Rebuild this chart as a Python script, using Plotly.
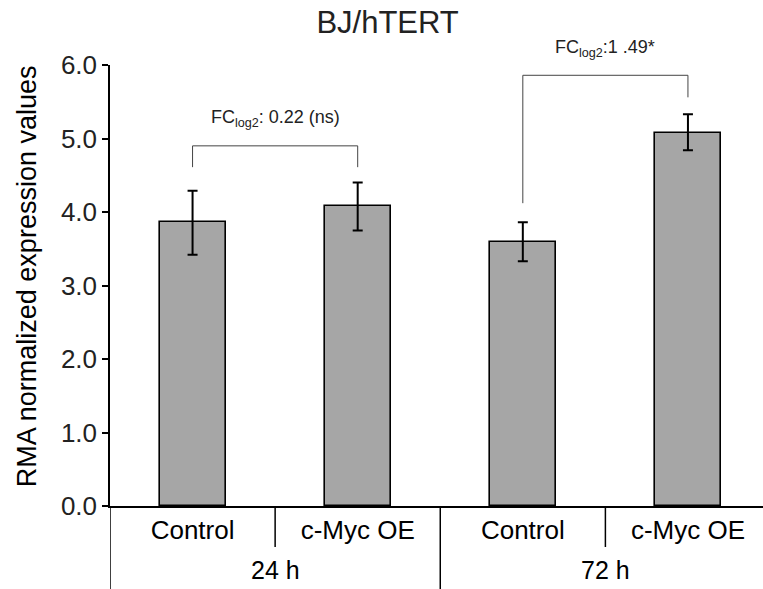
import plotly.graph_objects as go

# ---- data ----
conditions = ["Control", "c-Myc OE", "Control", "c-Myc OE"]
timepoints = ["24 h", "72 h"]
values = [3.86, 4.08, 3.59, 5.08]
err_upper = [0.43, 0.32, 0.27, 0.25]
err_lower = [0.44, 0.33, 0.26, 0.24]
y_ticks = [0.0, 1.0, 2.0, 3.0, 4.0, 5.0, 6.0]

# comparison brackets: (left bar, right bar, top y, left leg end, right leg end, label)
brackets = [
    (0, 1, 4.90, 4.61, 4.61, "FC<sub>log2</sub>: 0.22 (ns)"),
    (2, 3, 5.86, 4.12, 5.56, "FC<sub>log2</sub>:1 .49*"),
]

FONT = "Liberation Sans, Arial, Helvetica, sans-serif"
xpos = list(range(len(values)))

fig = go.Figure()
fig.add_trace(go.Bar(
    x=xpos, y=values, width=0.4,
    marker=dict(color="#a6a6a6", line=dict(color="black", width=1.6)),
    error_y=dict(type="data", symmetric=False, array=err_upper, arrayminus=err_lower,
                 color="black", thickness=2, width=5),
    showlegend=False,
))

shapes = []
annotations = []
for (a, b, top, la, lb, label) in brackets:
    for xx, y0 in ((a, la), (b, lb)):
        shapes.append(dict(type="line", xref="x", yref="y", x0=xx, x1=xx, y0=y0, y1=top,
                           line=dict(color="#444444", width=1)))
    shapes.append(dict(type="line", xref="x", yref="y", x0=a, x1=b, y0=top, y1=top,
                       line=dict(color="#444444", width=1)))
    annotations.append(dict(x=(a + b) / 2, y=top, yshift=27, xref="x", yref="y", text=label,
                            showarrow=False, font=dict(size=18, color="#222222", family=FONT),
                            xanchor="center", yanchor="middle"))

# category dividers
n = len(values)
for i in range(1, n):
    if i % 2 == 0:
        continue
    boundary = i - 0.5
    shapes.append(dict(type="line", xref="x", yref="paper", x0=boundary, x1=boundary,
                       y0=0, y1=-0.093, line=dict(color="black", width=1.5)))
for g in range(len(timepoints)):
    boundary = g * 2 - 0.5
    shapes.append(dict(type="line", xref="x", yref="paper", x0=boundary, x1=boundary,
                       y0=0, y1=-0.2, line=dict(color="black", width=1.5)))

# group labels
for g, tp in enumerate(timepoints):
    annotations.append(dict(x=g * 2 + 0.5, y=-0.145, xref="x", yref="paper", text=tp,
                            showarrow=False, font=dict(size=25, color="black", family=FONT),
                            xanchor="center", yanchor="middle"))

# y-axis label
annotations.append(dict(x=-0.128, y=0.522, xref="paper", yref="paper",
                        text="RMA normalized expression values", textangle=-90,
                        showarrow=False, font=dict(size=27, color="black", family=FONT),
                        xanchor="center", yanchor="middle"))

fig.update_layout(
    width=763, height=589,
    margin=dict(l=110, r=0, t=65, b=83, autoexpand=False),
    paper_bgcolor="white", plot_bgcolor="white",
    font=dict(family=FONT, color="black"),
    title=dict(text="BJ/hTERT", x=0.508, xanchor="center", y=1 - 22 / 589, yanchor="middle",
               xref="container", font=dict(size=31, color="#222222")),
    shapes=shapes, annotations=annotations,
    bargap=0,
)
fig.update_xaxes(
    range=[-0.5, 3.4545], tickmode="array", tickvals=xpos, ticktext=conditions,
    showgrid=False, zeroline=False, showline=True, linecolor="black", linewidth=1.5,
    ticks="", tickfont=dict(size=26, color="black"), fixedrange=True,
)
fig.update_yaxes(
    range=[0, 6], tickmode="array", tickvals=y_ticks, tickformat=".1f",
    showgrid=False, zeroline=False, showline=True, linecolor="black", linewidth=1.5,
    ticks="outside", ticklen=6, tickwidth=1.5, tickcolor="black",
    tickfont=dict(size=26, color="#222222"), fixedrange=True,
)

fig.write_html("out.html")
